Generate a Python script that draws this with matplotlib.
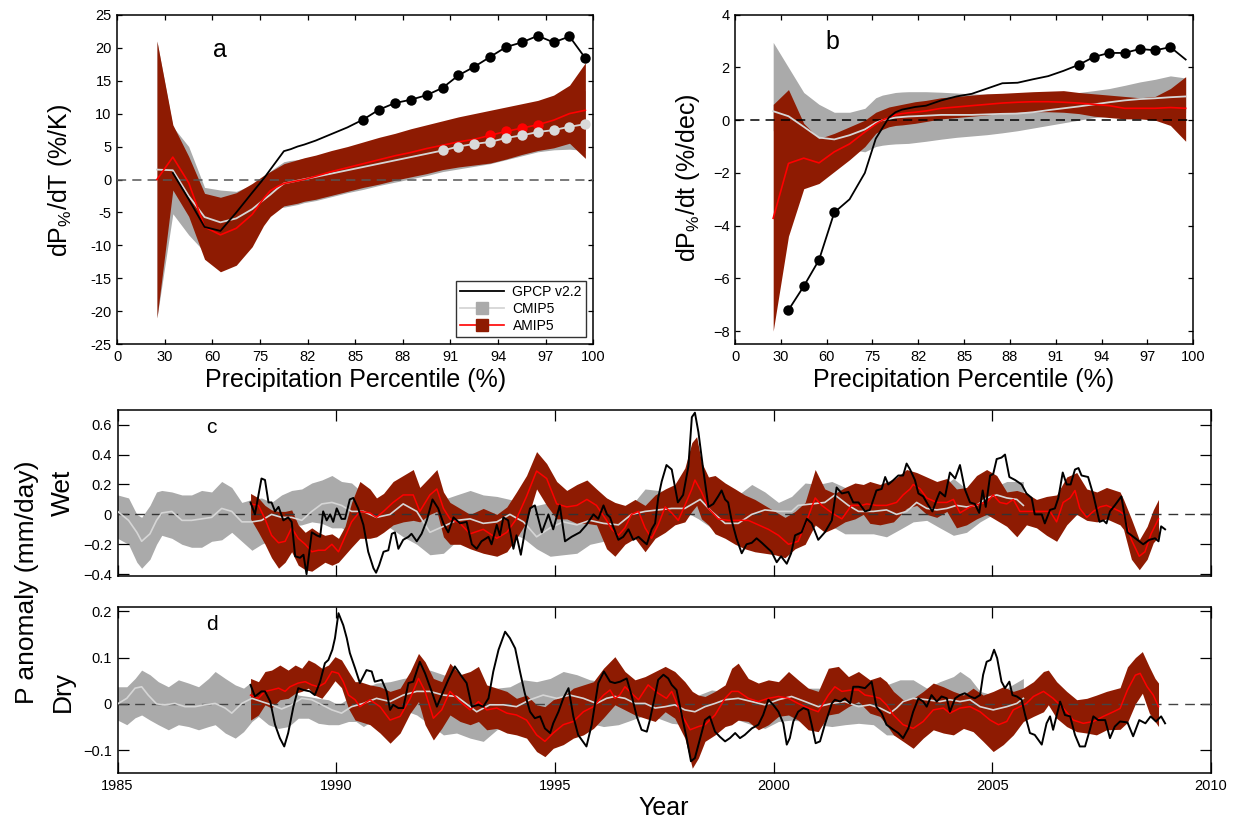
import numpy as np
import matplotlib
matplotlib.use("Agg")
import matplotlib.pyplot as plt
from matplotlib.lines import Line2D

plt.rcParams["font.family"] = ["Liberation Sans", "DejaVu Sans"]
plt.rcParams["mathtext.default"] = "regular"

# ---------------------------------------------------------------- percentile panels
PCT_TICKS = [0, 30, 60, 75, 82, 85, 88, 91, 94, 97, 100]
PCT = [25, 35, 45, 55, 62.5, 67.5, 72.5,
       75.5, 76.5, 77.5, 78.5, 79.5, 80.5, 81.5, 82.5, 83.5, 84.5,
       85.5, 86.5, 87.5, 88.5, 89.5, 90.5, 91.5, 92.5, 93.5, 94.5,
       95.5, 96.5, 97.5, 98.5, 99.5]
nan = np.nan

# (a) dP/dT  (%/K)
A_GPCP = [nan, 1.0, -3.0, -7.2, -7.8, -5.0, -2.0, 0.1, 1.5, 2.9, 4.3, 4.6, 5.0, 5.3, 5.9, 6.9,
          7.9, 9.1, 10.6, 11.6, 12.1, 12.8, 13.9, 15.8, 17.1, 18.6, 20.1, 20.8, 21.8, 20.8, 21.7, 18.4]
A_CMIP = [1.5, 1.4, -2.5, -5.7, -6.5, -5.9, -4.5, -3.1, -2.3, -1.4, -0.6, -0.39, -0.17, 0.04, 0.4, 0.9,
          1.4, 1.9, 2.4, 2.9, 3.4, 3.9, 4.4, 5.0, 5.4, 5.7, 6.3, 6.7, 7.2, 7.5, 8.0, 8.4]
A_CMIP_HI = [21.0, 8.0, 5.0, -1.2, -1.6, -1.8, -0.8, 0.5, 1.3, 2.0, 2.7, 2.9, 3.0, 3.2, 3.5, 4.0,
             4.6, 5.2, 5.8, 6.4, 7.0, 7.6, 8.2, 8.8, 9.3, 9.8, 10.2, 10.7, 11.2, 11.8, 12.8, 13.5]
A_CMIP_LO = [-21.0, -5.2, -8.4, -11.0, -9.5, -9.0, -7.0, -5.0, -4.5, -4.2, -4.2, -4.0, -3.8, -3.5, -3.2, -2.6,
             -2.0, -1.5, -0.9, -0.4, 0.1, 0.6, 1.2, 1.6, 2.0, 2.4, 3.0, 3.6, 4.2, 4.5, 4.6, 4.4]
A_AMIP = [0.0, 3.4, -0.5, -7.2, -8.4, -7.4, -5.3, -2.9, -1.7, -1.1, -0.6, -0.4, -0.2, 0.0, 0.5, 1.2,
          1.8, 2.4, 3.0, 3.6, 4.1, 4.7, 5.2, 5.7, 6.1, 6.7, 7.3, 7.8, 8.3, 9.0, 10.0, 10.5]
A_AMIP_HI = [21.0, 8.3, 3.5, -2.1, -2.7, -2.0, -0.6, 0.6, 1.2, 1.8, 2.4, 2.7, 3.0, 3.3, 3.7, 4.4,
             5.0, 5.7, 6.4, 7.0, 7.7, 8.3, 8.9, 9.5, 10.0, 10.5, 11.0, 11.5, 12.0, 12.8, 14.3, 17.7]
A_AMIP_LO = [-21.0, -1.6, -5.6, -12.1, -14.0, -13.0, -10.2, -7.0, -5.6, -4.8, -4.0, -3.8, -3.6, -3.3, -3.0, -2.4,
             -1.8, -1.2, -0.7, -0.1, 0.4, 0.9, 1.5, 1.9, 2.2, 2.5, 3.1, 3.8, 4.4, 4.8, 5.5, 3.2]
A_GPCP_SIG = list(range(17, 32))
A_CMIP_SIG = list(range(22, 32))
A_AMIP_SIG = [25, 26, 27, 28]

# (b) dP/dt  (%/dec)
B_GPCP = [nan, -7.2, -6.3, -5.3, -3.5, -3.0, -2.0, -0.7, -0.3, 0.1, 0.3, 0.4, 0.45, 0.5, 0.55, 0.75,
          0.9, 1.0, 1.2, 1.4, 1.42, 1.55, 1.67, 1.87, 2.1, 2.4, 2.55, 2.55, 2.7, 2.65, 2.77, 2.3]
B_CMIP = [0.34, 0.15, -0.25, -0.66, -0.73, -0.57, -0.35, -0.1, 0.0, 0.05, 0.1, 0.12, 0.14, 0.15, 0.17, 0.2,
          0.2, 0.2, 0.22, 0.24, 0.25, 0.3, 0.38, 0.45, 0.52, 0.6, 0.68, 0.75, 0.8, 0.83, 0.87, 0.9]
B_CMIP_HI = [2.95, 2.0, 1.05, 0.6, 0.3, 0.3, 0.45, 0.85, 0.95, 1.0, 1.05, 1.07, 1.08, 1.08, 1.08, 1.06,
             1.03, 1.0, 0.98, 0.96, 0.95, 0.94, 0.92, 0.98, 1.05, 1.12, 1.2, 1.32, 1.45, 1.55, 1.68, 1.6]
B_CMIP_LO = [-0.4, -0.3, -0.6, -0.85, -0.75, -1.1, -1.2, -1.0, -0.95, -0.92, -0.9, -0.89, -0.88, -0.85, -0.8, -0.72,
             -0.65, -0.6, -0.55, -0.48, -0.4, -0.3, -0.2, -0.1, 0.0, 0.1, 0.15, 0.2, 0.25, 0.25, 0.3, 0.3]
B_AMIP = [-3.72, -1.64, -1.44, -1.62, -1.2, -0.9, -0.45, -0.15, 0.0, 0.1, 0.2, 0.25, 0.28, 0.3, 0.35, 0.45,
          0.5, 0.55, 0.6, 0.65, 0.68, 0.7, 0.7, 0.68, 0.65, 0.6, 0.55, 0.45, 0.45, 0.45, 0.48, 0.45]
B_AMIP_HI = [0.6, 1.16, -0.12, -0.7, -0.5, -0.25, 0.0, 0.3, 0.4, 0.5, 0.55, 0.6, 0.65, 0.7, 0.75, 0.85,
             0.9, 0.95, 1.0, 1.02, 1.05, 1.08, 1.1, 1.12, 1.05, 1.0, 0.95, 0.9, 0.85, 0.9, 1.2, 1.65]
B_AMIP_LO = [-8.0, -4.4, -2.6, -2.4, -1.95, -1.5, -1.0, -0.5, -0.35, -0.25, -0.2, -0.18, -0.15, -0.12, -0.05, 0.05,
             0.1, 0.15, 0.2, 0.25, 0.3, 0.32, 0.32, 0.3, 0.25, 0.15, 0.1, 0.05, 0.05, 0.0, -0.2, -0.8]
B_GPCP_SIG = [1, 2, 3, 4, 24, 25, 26, 27, 28, 29, 30]

# ---------------------------------------------------------------- time series (mm/day)
# (year, upper, lower)
WET_CMIP_BAND = [
    (1985.00, 0.13, -0.16), (1985.25, 0.11, -0.20), (1985.44, 0.00, -0.32), (1985.55, -0.02, -0.36),
    (1985.74, 0.06, -0.30), (1985.89, 0.15, -0.20), (1986.01, 0.16, -0.14), (1986.24, 0.15, -0.16),
    (1986.47, 0.13, -0.20), (1986.69, 0.13, -0.22), (1986.92, 0.16, -0.22), (1987.15, 0.15, -0.18),
    (1987.38, 0.22, -0.17), (1987.61, 0.18, -0.12), (1987.84, 0.08, -0.18), (1988.07, 0.10, -0.24),
    (1988.29, 0.11, -0.20), (1988.52, 0.08, -0.17), (1988.75, 0.13, -0.12), (1988.98, 0.16, -0.08),
    (1989.21, 0.17, -0.07), (1989.44, 0.21, -0.05), (1989.67, 0.23, -0.06), (1989.90, 0.26, -0.09),
    (1990.12, 0.22, -0.09), (1990.35, 0.21, -0.13), (1990.62, 0.14, -0.09), (1990.92, 0.08, -0.07),
    (1991.23, 0.10, -0.09), (1991.53, 0.13, -0.15), (1991.84, 0.08, -0.20), (1992.14, 0.06, -0.27),
    (1992.45, 0.10, -0.26), (1992.75, 0.13, -0.18), (1993.06, 0.16, -0.16), (1993.36, 0.13, -0.17),
    (1993.67, 0.12, -0.16), (1993.97, 0.10, -0.12), (1994.28, 0.08, -0.16), (1994.58, 0.06, -0.23),
    (1994.89, 0.08, -0.28), (1995.19, 0.13, -0.27), (1995.50, 0.15, -0.26), (1995.80, 0.13, -0.20),
    (1996.11, 0.12, -0.18), (1996.45, 0.06, -0.15), (1996.75, 0.06, -0.12), (1997.06, 0.17, -0.07),
    (1997.36, 0.16, -0.05), (1997.67, 0.14, 0.02), (1997.97, 0.11, 0.02), (1998.28, 0.12, -0.03),
    (1998.58, 0.08, -0.09), (1998.89, 0.10, -0.12), (1999.19, 0.13, -0.13), (1999.50, 0.20, -0.14),
    (1999.80, 0.15, -0.15), (2000.11, 0.08, -0.13), (2000.41, 0.12, -0.12), (2000.72, 0.21, -0.10),
    (2001.02, 0.20, -0.07), (2001.33, 0.22, -0.08), (2001.63, 0.18, -0.13), (2001.94, 0.13, -0.13),
    (2002.28, 0.18, -0.13), (2002.58, 0.22, -0.15), (2002.89, 0.25, -0.10), (2003.19, 0.28, -0.05),
    (2003.50, 0.23, -0.04), (2003.80, 0.17, -0.09), (2004.11, 0.24, -0.14), (2004.41, 0.17, -0.12),
    (2004.72, 0.13, -0.05), (2005.02, 0.18, 0.00), (2005.33, 0.22, 0.02), (2005.71, 0.22, 0.06),
]
WET_CMIP = [
    (1985.00, 0.02), (1985.25, -0.04), (1985.44, -0.12), (1985.55, -0.18), (1985.74, -0.13), (1985.89, -0.04),
    (1986.01, 0.01), (1986.24, 0.02), (1986.47, -0.04), (1986.69, -0.04), (1986.92, -0.03), (1987.15, -0.02),
    (1987.38, 0.04), (1987.61, 0.02), (1987.84, -0.05), (1988.07, -0.05), (1988.29, -0.04), (1988.52, 0.00),
    (1988.75, -0.02), (1988.98, -0.02), (1989.21, -0.04), (1989.44, 0.02), (1989.67, 0.07), (1989.90, 0.08),
    (1990.12, 0.06), (1990.35, 0.02), (1990.62, 0.02), (1990.92, -0.02), (1991.23, 0.00), (1991.53, 0.07),
    (1991.84, 0.02), (1992.14, -0.12), (1992.45, -0.08), (1992.75, -0.04), (1993.06, -0.03), (1993.36, -0.06),
    (1993.67, -0.05), (1993.97, 0.00), (1994.28, -0.05), (1994.58, -0.15), (1994.89, -0.09), (1995.19, -0.05),
    (1995.50, -0.07), (1995.80, -0.04), (1996.11, -0.06), (1996.45, -0.07), (1996.75, 0.00), (1997.06, 0.02),
    (1997.36, 0.03), (1997.67, 0.04), (1997.97, 0.04), (1998.32, 0.10), (1998.58, 0.02), (1998.89, -0.06),
    (1999.19, -0.06), (1999.50, 0.00), (1999.80, 0.03), (2000.11, 0.02), (2000.41, 0.02), (2000.56, 0.06),
    (2000.87, 0.07), (2001.17, 0.08), (2001.40, 0.13), (2001.71, 0.06), (2001.94, 0.02), (2002.28, 0.02),
    (2002.58, 0.03), (2002.81, 0.00), (2003.04, 0.02), (2003.27, 0.08), (2003.50, 0.04), (2003.73, 0.03),
    (2003.96, 0.04), (2004.18, 0.06), (2004.41, 0.05), (2004.64, 0.06), (2004.87, 0.11), (2005.10, 0.13),
    (2005.33, 0.11), (2005.56, 0.10), (2005.71, 0.06),
]
WET_AMIP_BAND = [
    (1988.04, 0.14, -0.03), (1988.22, 0.11, -0.12), (1988.37, 0.06, -0.20), (1988.52, 0.03, -0.29),
    (1988.68, 0.02, -0.36), (1988.83, 0.02, -0.32), (1988.98, 0.03, -0.25), (1989.13, -0.07, -0.34),
    (1989.29, -0.12, -0.37), (1989.44, -0.09, -0.38), (1989.59, -0.12, -0.35), (1989.74, -0.14, -0.32),
    (1989.90, -0.13, -0.34), (1990.05, -0.16, -0.32), (1990.20, -0.08, -0.27), (1990.35, 0.08, -0.22),
    (1990.54, 0.22, -0.16), (1990.77, 0.17, -0.16), (1990.92, 0.11, -0.15), (1991.08, 0.14, -0.12),
    (1991.30, 0.22, -0.07), (1991.53, 0.26, -0.05), (1991.76, 0.30, -0.04), (1991.91, 0.18, -0.05),
    (1992.14, 0.25, 0.00), (1992.30, 0.30, 0.02), (1992.45, 0.15, -0.15), (1992.60, 0.08, -0.20),
    (1992.83, 0.04, -0.20), (1993.06, 0.00, -0.23), (1993.36, 0.04, -0.26), (1993.67, 0.00, -0.28),
    (1993.90, 0.05, -0.25), (1994.12, 0.15, -0.16), (1994.35, 0.26, -0.05), (1994.58, 0.42, 0.17),
    (1994.81, 0.34, 0.06), (1995.04, 0.22, -0.03), (1995.27, 0.16, -0.03), (1995.50, 0.20, -0.06),
    (1995.73, 0.23, -0.06), (1995.95, 0.17, -0.07), (1996.18, 0.11, -0.23), (1996.37, 0.08, -0.28),
    (1996.60, 0.06, -0.20), (1996.83, 0.10, -0.16), (1997.06, 0.06, -0.25), (1997.29, 0.13, -0.16),
    (1997.52, 0.17, -0.12), (1997.74, 0.20, -0.07), (1997.97, 0.31, -0.05), (1998.13, 0.48, 0.02),
    (1998.24, 0.52, 0.06), (1998.35, 0.35, -0.03), (1998.51, 0.25, -0.07), (1998.66, 0.26, -0.13),
    (1998.89, 0.21, -0.16), (1999.12, 0.17, -0.20), (1999.34, 0.13, -0.23), (1999.57, 0.10, -0.25),
    (1999.80, 0.06, -0.26), (2000.03, 0.02, -0.27), (2000.26, -0.02, -0.29), (2000.49, 0.02, -0.23),
    (2000.72, 0.08, -0.20), (2000.95, 0.30, -0.07), (2001.17, 0.17, -0.12), (2001.40, 0.14, -0.09),
    (2001.63, 0.18, -0.05), (2001.86, 0.21, -0.03), (2002.05, 0.20, 0.00), (2002.20, 0.22, -0.06),
    (2002.43, 0.20, -0.07), (2002.74, 0.23, -0.05), (2003.04, 0.30, 0.04), (2003.27, 0.28, 0.06),
    (2003.50, 0.25, 0.00), (2003.73, 0.22, -0.02), (2003.96, 0.24, 0.02), (2004.18, 0.17, -0.09),
    (2004.41, 0.18, -0.07), (2004.64, 0.26, -0.03), (2004.87, 0.30, 0.00), (2005.10, 0.26, -0.04),
    (2005.33, 0.15, -0.08), (2005.56, 0.16, -0.15), (2005.78, 0.14, -0.07), (2006.01, 0.10, -0.09),
    (2006.24, 0.12, -0.14), (2006.47, 0.13, -0.18), (2006.70, 0.25, -0.07), (2006.93, 0.28, 0.00),
    (2007.16, 0.17, -0.04), (2007.39, 0.15, -0.05), (2007.61, 0.18, -0.03), (2007.92, 0.15, -0.07),
    (2008.00, 0.10, -0.10), (2008.18, -0.03, -0.30), (2008.36, -0.17, -0.37), (2008.54, -0.08, -0.30),
    (2008.68, 0.03, -0.19), (2008.80, 0.10, -0.15),
]
WET_AMIP = [
    (1988.04, 0.07), (1988.22, 0.06), (1988.37, -0.03), (1988.52, -0.14), (1988.68, -0.19), (1988.83, -0.18),
    (1988.98, -0.09), (1989.13, -0.16), (1989.29, -0.20), (1989.44, -0.25), (1989.59, -0.24), (1989.74, -0.24),
    (1989.90, -0.20), (1990.05, -0.25), (1990.20, -0.15), (1990.35, -0.05), (1990.54, 0.02), (1990.77, 0.01),
    (1990.92, -0.02), (1991.08, 0.02), (1991.30, 0.08), (1991.53, 0.13), (1991.76, 0.13), (1991.91, 0.02),
    (1992.14, 0.13), (1992.30, 0.17), (1992.45, 0.04), (1992.60, -0.03), (1992.83, -0.06), (1993.06, -0.13),
    (1993.36, -0.10), (1993.67, -0.16), (1993.90, -0.12), (1994.12, -0.03), (1994.35, 0.12), (1994.58, 0.29),
    (1994.81, 0.24), (1995.04, 0.07), (1995.27, 0.05), (1995.50, 0.06), (1995.73, 0.10), (1995.95, 0.06),
    (1996.18, -0.04), (1996.30, -0.10), (1996.45, -0.14), (1996.60, -0.09), (1996.75, 0.00), (1996.91, 0.02),
    (1997.06, -0.09), (1997.21, -0.16), (1997.36, -0.07), (1997.52, 0.05), (1997.67, 0.01), (1997.82, -0.04),
    (1997.97, 0.06), (1998.13, 0.17), (1998.20, 0.23), (1998.35, 0.15), (1998.51, 0.04), (1998.73, -0.03),
    (1998.96, -0.04), (1999.19, -0.04), (1999.42, -0.04), (1999.65, -0.07), (1999.88, -0.10), (2000.11, -0.14),
    (2000.34, -0.20), (2000.56, -0.18), (2000.72, -0.07), (2000.95, 0.11), (2001.10, 0.06), (2001.33, 0.01),
    (2001.56, -0.03), (2001.78, 0.06), (2002.01, 0.06), (2002.13, 0.07), (2002.35, 0.06), (2002.58, 0.06),
    (2002.81, 0.08), (2002.96, 0.13), (2003.12, 0.17), (2003.19, 0.20), (2003.35, 0.17), (2003.50, 0.11),
    (2003.73, 0.08), (2003.96, 0.08), (2004.11, 0.10), (2004.26, 0.01), (2004.49, 0.05), (2004.72, 0.07),
    (2004.87, 0.08), (2005.02, 0.13), (2005.17, 0.08), (2005.33, 0.07), (2005.48, 0.10), (2005.63, 0.02),
    (2005.86, 0.02), (2006.09, 0.02), (2006.32, 0.02), (2006.47, -0.05), (2006.62, 0.08), (2006.78, 0.11),
    (2006.89, 0.16), (2007.00, 0.04), (2007.16, -0.02), (2007.31, 0.02), (2007.46, 0.05), (2007.61, 0.06),
    (2007.77, 0.04), (2007.92, 0.02), (2008.00, 0.00), (2008.18, -0.17), (2008.36, -0.28), (2008.49, -0.25),
    (2008.63, -0.13), (2008.80, -0.03),
]
WET_GPCP = [
    (1988.04, 0.08), (1988.14, 0.00), (1988.22, 0.13), (1988.29, 0.24), (1988.37, 0.23), (1988.45, 0.08),
    (1988.52, 0.08), (1988.60, 0.02), (1988.68, 0.05), (1988.79, -0.04), (1988.90, -0.02), (1988.98, -0.05),
    (1989.06, -0.28), (1989.17, -0.29), (1989.25, -0.27), (1989.32, -0.40), (1989.44, -0.12), (1989.55, -0.14),
    (1989.63, -0.15), (1989.70, 0.02), (1989.78, -0.04), (1989.86, 0.00), (1989.93, -0.05), (1990.01, 0.04),
    (1990.12, -0.03), (1990.20, -0.03), (1990.31, 0.10), (1990.39, 0.11), (1990.50, 0.04), (1990.62, -0.07),
    (1990.73, -0.25), (1990.85, -0.36), (1990.91, -0.39), (1990.98, -0.34), (1991.08, -0.25), (1991.19, -0.24),
    (1991.27, -0.13), (1991.34, -0.12), (1991.42, -0.23), (1991.53, -0.17), (1991.65, -0.15), (1991.72, -0.13),
    (1991.84, -0.18), (1991.95, -0.13), (1992.07, -0.04), (1992.20, 0.10), (1992.33, 0.04), (1992.45, -0.06),
    (1992.56, -0.12), (1992.68, -0.02), (1992.83, -0.06), (1992.98, -0.05), (1993.10, -0.20), (1993.21, -0.23),
    (1993.32, -0.18), (1993.48, -0.15), (1993.55, -0.20), (1993.67, -0.07), (1993.74, -0.14), (1993.82, -0.02),
    (1993.93, -0.04), (1994.05, -0.23), (1994.12, -0.14), (1994.22, -0.27), (1994.32, -0.10), (1994.43, 0.04),
    (1994.54, 0.06), (1994.70, -0.12), (1994.85, 0.00), (1994.96, -0.10), (1995.11, 0.06), (1995.23, -0.18),
    (1995.38, -0.15), (1995.57, -0.12), (1995.72, -0.07), (1995.88, 0.00), (1995.99, -0.03), (1996.11, 0.06),
    (1996.19, 0.00), (1996.26, -0.02), (1996.33, -0.08), (1996.45, -0.17), (1996.56, -0.15), (1996.68, -0.10),
    (1996.79, -0.17), (1996.91, -0.15), (1997.02, -0.18), (1997.10, -0.20), (1997.21, -0.10), (1997.29, -0.06),
    (1997.36, 0.11), (1997.44, 0.22), (1997.55, 0.33), (1997.67, 0.30), (1997.81, 0.08), (1997.93, 0.13),
    (1998.05, 0.32), (1998.13, 0.65), (1998.20, 0.68), (1998.28, 0.55), (1998.39, 0.30), (1998.51, 0.05),
    (1998.62, 0.07), (1998.73, 0.12), (1998.81, 0.16), (1998.89, 0.10), (1998.96, 0.08), (1999.04, -0.04),
    (1999.15, -0.16), (1999.27, -0.26), (1999.38, -0.20), (1999.50, -0.19), (1999.61, -0.16), (1999.73, -0.19),
    (1999.84, -0.22), (1999.95, -0.25), (2000.07, -0.32), (2000.17, -0.28), (2000.30, -0.33), (2000.40, -0.26),
    (2000.49, -0.14), (2000.64, -0.12), (2000.76, -0.03), (2000.87, -0.06), (2001.02, -0.17), (2001.17, -0.12),
    (2001.33, -0.04), (2001.44, 0.18), (2001.56, 0.14), (2001.71, 0.15), (2001.82, 0.08), (2001.94, 0.08),
    (2002.09, 0.02), (2002.20, 0.03), (2002.35, 0.16), (2002.47, 0.17), (2002.55, 0.25), (2002.62, 0.20),
    (2002.74, 0.23), (2002.85, 0.26), (2002.96, 0.26), (2003.04, 0.34), (2003.12, 0.30), (2003.23, 0.23),
    (2003.31, 0.14), (2003.42, 0.12), (2003.54, 0.06), (2003.63, 0.02), (2003.73, 0.10), (2003.80, 0.15),
    (2003.92, 0.12), (2004.03, 0.28), (2004.15, 0.24), (2004.26, 0.33), (2004.37, 0.17), (2004.49, 0.08),
    (2004.60, 0.07), (2004.70, 0.01), (2004.78, 0.16), (2004.85, 0.05), (2004.95, 0.26), (2005.02, 0.27),
    (2005.10, 0.37), (2005.21, 0.38), (2005.29, 0.40), (2005.39, 0.25), (2005.52, 0.23), (2005.67, 0.20),
    (2005.78, 0.14), (2005.90, 0.11), (2005.97, 0.00), (2006.13, 0.00), (2006.20, -0.06), (2006.32, 0.03),
    (2006.43, 0.04), (2006.51, 0.11), (2006.61, 0.28), (2006.70, 0.20), (2006.79, 0.20), (2006.89, 0.30),
    (2006.97, 0.31), (2007.04, 0.26), (2007.19, 0.25), (2007.31, 0.13), (2007.45, -0.05), (2007.54, -0.04),
    (2007.61, -0.06), (2007.69, 0.02), (2007.80, 0.06), (2007.95, 0.12), (2008.09, -0.12), (2008.27, -0.16),
    (2008.45, -0.20), (2008.59, -0.17), (2008.72, -0.16), (2008.80, -0.18), (2008.86, -0.08), (2008.95, -0.10),
]

DRY_CMIP_BAND = [
    (1985.00, 0.037, -0.035), (1985.21, 0.037, -0.045), (1985.40, 0.055, -0.030), (1985.55, 0.073, -0.024),
    (1985.74, 0.063, -0.035), (1985.93, 0.048, -0.045), (1986.16, 0.037, -0.056), (1986.39, 0.052, -0.045),
    (1986.62, 0.045, -0.049), (1986.85, 0.037, -0.056), (1987.08, 0.055, -0.049), (1987.23, 0.070, -0.045),
    (1987.46, 0.055, -0.063), (1987.69, 0.041, -0.074), (1987.88, 0.034, -0.060), (1988.07, 0.048, -0.038),
    (1988.22, 0.045, -0.027), (1988.45, 0.027, -0.045), (1988.68, 0.034, -0.053), (1988.91, 0.037, -0.049),
    (1989.13, 0.019, -0.031), (1989.36, 0.016, -0.031), (1989.59, 0.012, -0.042), (1989.82, 0.009, -0.045),
    (1990.05, -0.002, -0.045), (1990.28, 0.012, -0.038), (1990.45, 0.027, -0.038), (1990.62, 0.034, -0.049),
    (1990.92, 0.045, -0.031), (1991.23, 0.048, -0.024), (1991.53, 0.055, -0.013), (1991.84, 0.059, -0.024),
    (1992.14, 0.073, -0.045), (1992.45, 0.063, -0.067), (1992.75, 0.052, -0.063), (1993.06, 0.041, -0.074),
    (1993.36, 0.030, -0.081), (1993.67, 0.034, -0.056), (1993.97, 0.037, -0.045), (1994.28, 0.052, -0.038),
    (1994.58, 0.048, -0.035), (1994.89, 0.055, -0.024), (1995.19, 0.070, -0.031), (1995.50, 0.063, -0.038),
    (1995.80, 0.052, -0.042), (1996.11, 0.048, -0.049), (1996.45, 0.030, -0.045), (1996.75, 0.041, -0.035),
    (1997.06, 0.048, -0.024), (1997.36, 0.055, -0.031), (1997.67, 0.041, -0.042), (1997.97, 0.027, -0.045),
    (1998.28, 0.019, -0.056), (1998.58, 0.030, -0.045), (1998.89, 0.027, -0.038), (1999.19, 0.041, -0.035),
    (1999.50, 0.034, -0.045), (1999.80, 0.030, -0.053), (2000.11, 0.045, -0.038), (2000.41, 0.048, -0.035),
    (2000.72, 0.034, -0.038), (2001.02, 0.034, -0.045), (2001.33, 0.030, -0.049), (2001.63, 0.034, -0.045),
    (2001.94, 0.037, -0.042), (2002.28, 0.048, -0.045), (2002.58, 0.041, -0.067), (2002.89, 0.052, -0.067),
    (2003.19, 0.052, -0.053), (2003.50, 0.034, -0.038), (2003.80, 0.048, -0.027), (2004.11, 0.059, -0.013),
    (2004.26, 0.070, -0.016), (2004.49, 0.055, -0.031), (2004.72, 0.027, -0.045), (2005.02, 0.019, -0.049),
    (2005.33, 0.034, -0.038), (2005.71, 0.055, -0.024),
]
DRY_CMIP = [
    (1985.00, 0.000), (1985.21, 0.012), (1985.40, 0.034), (1985.55, 0.037), (1985.70, 0.019), (1985.89, 0.000),
    (1986.08, -0.002), (1986.31, 0.001), (1986.54, -0.006), (1986.77, -0.006), (1987.00, -0.002), (1987.23, 0.001),
    (1987.46, -0.009), (1987.61, -0.020), (1987.84, 0.001), (1988.07, 0.012), (1988.29, 0.005), (1988.52, -0.002),
    (1988.75, -0.011), (1988.98, -0.002), (1989.21, 0.012), (1989.44, 0.009), (1989.67, -0.002), (1989.90, -0.013),
    (1990.12, -0.020), (1990.35, -0.006), (1990.62, 0.001), (1990.92, 0.012), (1991.23, 0.005), (1991.53, 0.019),
    (1991.84, 0.027), (1992.14, 0.027), (1992.45, 0.019), (1992.75, 0.016), (1993.06, -0.006), (1993.21, -0.017),
    (1993.51, -0.002), (1993.82, -0.002), (1994.12, -0.006), (1994.43, 0.009), (1994.73, 0.019), (1995.04, 0.012),
    (1995.34, 0.019), (1995.65, 0.012), (1995.95, 0.001), (1996.18, 0.012), (1996.37, 0.016), (1996.60, 0.012),
    (1996.83, 0.001), (1997.06, 0.001), (1997.29, -0.009), (1997.52, -0.006), (1997.74, -0.002), (1997.97, -0.013),
    (1998.20, -0.017), (1998.43, -0.006), (1998.66, 0.001), (1998.89, 0.009), (1999.19, 0.012), (1999.50, 0.005),
    (1999.80, -0.002), (2000.11, 0.009), (2000.41, 0.016), (2000.72, 0.005), (2001.02, -0.006), (2001.33, 0.001),
    (2001.63, 0.005), (2001.94, -0.006), (2002.20, -0.002), (2002.43, -0.009), (2002.66, -0.020), (2002.81, -0.009),
    (2002.96, 0.005), (2003.19, 0.012), (2003.50, 0.009), (2003.80, 0.005), (2004.03, 0.009), (2004.26, 0.005),
    (2004.49, 0.009), (2004.72, -0.006), (2005.02, -0.013), (2005.33, -0.006), (2005.56, 0.001), (2005.71, 0.012),
]
DRY_AMIP_BAND = [
    (1988.04, 0.055, -0.035), (1988.22, 0.048, -0.024), (1988.37, 0.070, -0.002), (1988.52, 0.073, -0.009),
    (1988.71, 0.084, 0.009), (1988.90, 0.073, 0.012), (1989.06, 0.084, 0.023), (1989.21, 0.077, 0.027),
    (1989.36, 0.095, 0.034), (1989.51, 0.088, 0.019), (1989.67, 0.077, 0.012), (1989.82, 0.084, 0.030),
    (1989.97, 0.102, 0.050), (1990.12, 0.095, 0.035), (1990.28, 0.070, -0.010), (1990.43, 0.048, -0.035),
    (1990.54, 0.048, -0.038), (1990.77, 0.041, -0.045), (1991.00, 0.037, -0.063), (1991.23, 0.027, -0.085),
    (1991.46, 0.034, -0.063), (1991.69, 0.070, -0.020), (1991.88, 0.109, 0.005), (1992.03, 0.091, -0.045),
    (1992.22, 0.055, -0.078), (1992.41, 0.048, -0.053), (1992.60, 0.088, -0.024), (1992.83, 0.063, -0.038),
    (1993.06, 0.070, -0.045), (1993.25, 0.081, -0.038), (1993.44, 0.041, -0.056), (1993.67, 0.034, -0.053),
    (1993.90, 0.027, -0.063), (1994.12, 0.012, -0.067), (1994.35, 0.019, -0.074), (1994.58, -0.002, -0.103),
    (1994.77, -0.006, -0.114), (1994.96, 0.009, -0.096), (1995.19, 0.016, -0.088), (1995.42, 0.034, -0.074),
    (1995.65, 0.041, -0.067), (1995.88, 0.048, -0.053), (1996.11, 0.077, -0.030), (1996.37, 0.102, -0.002),
    (1996.60, 0.070, -0.013), (1996.83, 0.052, -0.024), (1997.06, 0.059, -0.031), (1997.29, 0.070, -0.038),
    (1997.52, 0.081, -0.017), (1997.74, 0.070, -0.031), (1997.97, 0.048, -0.074), (1998.14, 0.027, -0.139),
    (1998.28, 0.019, -0.117), (1998.43, 0.016, -0.081), (1998.66, 0.027, -0.067), (1998.89, 0.041, -0.049),
    (1999.04, 0.077, -0.045), (1999.19, 0.088, -0.035), (1999.42, 0.055, -0.038), (1999.65, 0.045, -0.056),
    (1999.88, 0.052, -0.045), (2000.11, 0.048, -0.027), (2000.34, 0.070, -0.024), (2000.56, 0.052, -0.035),
    (2000.79, 0.034, -0.056), (2001.02, 0.027, -0.060), (2001.25, 0.077, -0.024), (2001.48, 0.081, -0.020),
    (2001.71, 0.059, -0.006), (2001.94, 0.070, 0.005), (2002.20, 0.052, -0.020), (2002.43, 0.059, -0.027),
    (2002.58, 0.048, -0.045), (2002.74, 0.027, -0.067), (2002.96, 0.009, -0.081), (2003.19, 0.012, -0.096),
    (2003.42, 0.027, -0.074), (2003.65, 0.045, -0.056), (2003.88, 0.037, -0.063), (2004.11, 0.027, -0.067),
    (2004.34, 0.019, -0.053), (2004.56, 0.034, -0.060), (2004.79, 0.019, -0.081), (2005.02, 0.027, -0.103),
    (2005.25, 0.037, -0.088), (2005.48, 0.027, -0.067), (2005.71, 0.034, -0.038), (2005.94, 0.048, -0.027),
    (2006.17, 0.070, -0.017), (2006.28, 0.073, -0.002), (2006.47, 0.048, -0.031), (2006.70, 0.027, -0.049),
    (2006.93, 0.009, -0.060), (2007.16, 0.012, -0.063), (2007.38, 0.019, -0.067), (2007.61, 0.027, -0.056),
    (2007.92, 0.035, -0.055), (2008.09, 0.080, -0.040), (2008.27, 0.100, 0.000), (2008.43, 0.113, 0.023),
    (2008.59, 0.080, -0.020), (2008.72, 0.055, -0.038), (2008.80, 0.045, -0.049),
]
DRY_AMIP = [
    (1988.04, 0.019), (1988.22, 0.012), (1988.37, 0.027), (1988.52, 0.030), (1988.68, 0.034), (1988.83, 0.027),
    (1988.94, 0.037), (1989.13, 0.045), (1989.29, 0.048), (1989.44, 0.041), (1989.59, 0.037), (1989.74, 0.045),
    (1989.90, 0.070), (1990.05, 0.066), (1990.16, 0.048), (1990.28, 0.019), (1990.43, 0.009), (1990.54, -0.006),
    (1990.77, 0.009), (1991.00, -0.006), (1991.23, -0.035), (1991.46, -0.027), (1991.69, 0.012), (1991.88, 0.055),
    (1992.03, 0.027), (1992.22, -0.031), (1992.41, -0.013), (1992.60, 0.027), (1992.83, 0.005), (1993.06, -0.013),
    (1993.25, 0.005), (1993.44, -0.013), (1993.67, -0.009), (1993.90, -0.020), (1994.12, -0.024), (1994.35, -0.035),
    (1994.58, -0.067), (1994.77, -0.081), (1994.96, -0.063), (1995.19, -0.045), (1995.42, -0.038), (1995.65, -0.017),
    (1995.88, -0.006), (1996.11, 0.019), (1996.26, 0.030), (1996.37, 0.012), (1996.48, 0.019), (1996.60, 0.037),
    (1996.75, 0.023), (1996.91, 0.009), (1997.13, 0.041), (1997.36, 0.023), (1997.55, 0.012), (1997.67, 0.027),
    (1997.90, -0.024), (1998.09, -0.056), (1998.28, -0.049), (1998.43, -0.045), (1998.66, -0.024), (1998.89, 0.012),
    (1999.04, 0.027), (1999.19, 0.027), (1999.42, 0.012), (1999.65, 0.005), (1999.88, 0.012), (2000.11, 0.016),
    (2000.34, 0.012), (2000.56, 0.001), (2000.79, -0.009), (2001.02, -0.017), (2001.25, 0.019), (2001.40, 0.037),
    (2001.56, 0.027), (2001.78, 0.030), (2001.94, 0.030), (2002.09, 0.019), (2002.28, 0.016), (2002.43, 0.012),
    (2002.58, -0.002), (2002.74, -0.024), (2002.96, -0.045), (2003.19, -0.053), (2003.42, -0.038), (2003.65, -0.013),
    (2003.88, -0.009), (2004.03, -0.020), (2004.26, -0.009), (2004.49, -0.006), (2004.72, -0.017), (2004.95, -0.035),
    (2005.14, -0.045), (2005.33, -0.038), (2005.48, -0.013), (2005.63, -0.006), (2005.78, 0.001), (2005.94, 0.016),
    (2006.17, 0.027), (2006.39, 0.012), (2006.62, -0.009), (2006.85, -0.035), (2007.08, -0.042), (2007.31, -0.038),
    (2007.54, -0.027), (2007.77, -0.017), (2007.92, -0.010), (2008.09, 0.030), (2008.27, 0.062), (2008.38, 0.066),
    (2008.54, 0.037), (2008.68, 0.019), (2008.80, -0.006),
]
DRY_GPCP = [
    (1988.04, 0.041), (1988.14, 0.016), (1988.29, 0.027), (1988.37, 0.027), (1988.49, 0.005), (1988.60, -0.045),
    (1988.71, -0.074), (1988.81, -0.092), (1988.90, -0.063), (1989.02, -0.006), (1989.13, 0.034), (1989.25, 0.030),
    (1989.40, 0.027), (1989.51, 0.019), (1989.63, 0.048), (1989.74, 0.088), (1989.82, 0.095), (1989.91, 0.117),
    (1989.97, 0.142), (1990.05, 0.196), (1990.16, 0.170), (1990.24, 0.142), (1990.31, 0.110), (1990.43, 0.077),
    (1990.54, 0.045), (1990.69, 0.073), (1990.81, 0.070), (1990.88, 0.048), (1991.04, 0.052), (1991.15, 0.027),
    (1991.23, -0.013), (1991.30, -0.002), (1991.42, -0.009), (1991.53, -0.009), (1991.65, 0.045), (1991.76, 0.048),
    (1991.91, 0.091), (1992.03, 0.066), (1992.18, 0.027), (1992.30, -0.006), (1992.41, 0.019), (1992.56, 0.052),
    (1992.71, 0.081), (1992.87, 0.059), (1992.98, 0.045), (1993.10, -0.006), (1993.25, -0.002), (1993.36, -0.006),
    (1993.48, 0.012), (1993.59, 0.070), (1993.71, 0.117), (1993.86, 0.156), (1993.97, 0.142), (1994.09, 0.120),
    (1994.20, 0.070), (1994.31, 0.023), (1994.43, -0.017), (1994.54, -0.031), (1994.66, -0.027), (1994.77, -0.053),
    (1994.89, -0.063), (1994.96, -0.042), (1995.08, -0.017), (1995.19, 0.012), (1995.31, 0.034), (1995.42, -0.027),
    (1995.53, -0.067), (1995.72, -0.092), (1995.84, -0.045), (1995.99, 0.045), (1996.12, 0.070), (1996.26, 0.048),
    (1996.37, 0.045), (1996.49, 0.048), (1996.64, 0.055), (1996.75, 0.019), (1996.87, -0.027), (1996.98, -0.056),
    (1997.10, -0.060), (1997.17, -0.035), (1997.29, 0.019), (1997.36, 0.052), (1997.48, 0.063), (1997.59, 0.055),
    (1997.67, 0.041), (1997.78, 0.030), (1997.90, -0.024), (1998.01, -0.074), (1998.11, -0.124), (1998.20, -0.117),
    (1998.32, -0.074), (1998.43, -0.035), (1998.54, -0.027), (1998.66, -0.060), (1998.77, -0.071), (1998.89, -0.081),
    (1999.00, -0.074), (1999.12, -0.063), (1999.23, -0.074), (1999.34, -0.067), (1999.50, -0.053), (1999.65, -0.045),
    (1999.76, -0.024), (1999.88, 0.009), (1999.99, -0.002), (2000.11, -0.017), (2000.22, -0.042), (2000.30, -0.088),
    (2000.37, -0.074), (2000.45, -0.038), (2000.56, -0.017), (2000.68, -0.009), (2000.79, -0.013), (2000.87, -0.045),
    (2000.96, -0.085), (2001.06, -0.081), (2001.17, -0.045), (2001.33, 0.001), (2001.40, 0.009), (2001.52, 0.005),
    (2001.63, 0.012), (2001.75, 0.001), (2001.82, 0.037), (2001.94, 0.037), (2002.09, 0.034), (2002.24, 0.048),
    (2002.35, -0.006), (2002.47, -0.020), (2002.58, -0.045), (2002.74, -0.056), (2002.85, -0.063), (2002.96, -0.074),
    (2003.08, -0.053), (2003.19, -0.017), (2003.31, 0.012), (2003.42, 0.005), (2003.50, -0.006), (2003.61, 0.019),
    (2003.73, 0.005), (2003.84, 0.016), (2003.96, 0.012), (2004.03, -0.017), (2004.15, 0.012), (2004.26, 0.019),
    (2004.37, 0.023), (2004.49, 0.016), (2004.60, 0.012), (2004.72, 0.019), (2004.79, 0.063), (2004.87, 0.091),
    (2004.96, 0.095), (2005.04, 0.117), (2005.11, 0.099), (2005.21, 0.048), (2005.29, 0.034), (2005.39, 0.048),
    (2005.46, 0.019), (2005.56, 0.016), (2005.67, 0.009), (2005.75, -0.024), (2005.86, -0.063), (2005.97, -0.067),
    (2006.13, -0.088), (2006.24, -0.042), (2006.32, -0.027), (2006.39, -0.056), (2006.55, 0.005), (2006.66, -0.024),
    (2006.78, -0.027), (2006.89, -0.067), (2007.00, -0.092), (2007.12, -0.092), (2007.23, -0.056), (2007.31, -0.027),
    (2007.42, -0.035), (2007.58, -0.035), (2007.69, -0.074), (2007.80, -0.049), (2007.92, -0.038), (2008.09, -0.040),
    (2008.22, -0.070), (2008.36, -0.035), (2008.50, -0.042), (2008.62, -0.027), (2008.74, -0.038), (2008.86, -0.027),
    (2008.95, -0.042),
]

YEAR_TICKS = [1985, 1990, 1995, 2000, 2005, 2010]

# ---------------------------------------------------------------- styling
RED_BAND = "#8e1b02"
GRAY_BAND = "#aaaaaa"
CMIP_LINE = "#d6d6d6"
CMIP_MARK = "#d9d9d9"
AMIP_LINE = "#ff0000"
LABEL_SIZE = 18

W, H = 1234, 823
fig = plt.figure(figsize=(W / 100, H / 100), dpi=100)


def box(left, top, right, bottom):
    return [left / W, 1 - bottom / H, (right - left) / W, (bottom - top) / H]


def pct_forward(x):
    return np.interp(x, PCT_TICKS, np.arange(len(PCT_TICKS)))


def pct_inverse(p):
    return np.interp(p, np.arange(len(PCT_TICKS)), PCT_TICKS)


def frame(ax, ticklen):
    for s in ax.spines.values():
        s.set_linewidth(1.1)
    ax.tick_params(direction="in", top=True, right=True, length=ticklen, width=0.9,
                   labelsize=10.5, pad=4)


def pct_panel(ax, cm, cm_hi, cm_lo, am, am_hi, am_lo, obs, ylim, yticks, dash_color):
    x = np.array(PCT, dtype=float)
    ax.set_xscale("function", functions=(pct_forward, pct_inverse))
    ax.fill_between(x, cm_lo, cm_hi, color=GRAY_BAND, lw=0, zorder=1)
    ax.fill_between(x, am_lo, am_hi, color=RED_BAND, lw=0, zorder=2)
    ax.axhline(0, color=dash_color, lw=1.1, ls=(0, (6, 4)), zorder=3)
    ax.plot(x, obs, color="black", lw=1.3, zorder=6)
    ax.plot(x, cm, color=CMIP_LINE, lw=1.3, zorder=4)
    ax.plot(x, am, color=AMIP_LINE, lw=1.2, zorder=5)
    ax.set_xlim(0, 100)
    ax.set_xticks(PCT_TICKS)
    ax.set_xticklabels([str(t) for t in PCT_TICKS])
    ax.minorticks_off()
    ax.set_ylim(*ylim)
    ax.set_yticks(yticks)
    ax.set_yticklabels([str(t) for t in yticks])
    frame(ax, 3.5)
    return x


# ---- (a)
ax_a = fig.add_axes(box(117.3, 14.7, 593.3, 344.3))
xa = pct_panel(ax_a, A_CMIP, A_CMIP_HI, A_CMIP_LO, A_AMIP, A_AMIP_HI, A_AMIP_LO, A_GPCP,
               (-25, 25), list(range(-25, 26, 5)), "#555555")
ax_a.plot(xa[A_AMIP_SIG], np.array(A_AMIP)[A_AMIP_SIG], "o", color=AMIP_LINE, ms=7.5, mew=0, zorder=7)
ax_a.plot(xa[A_CMIP_SIG], np.array(A_CMIP)[A_CMIP_SIG], "o", color=CMIP_MARK, ms=7.5, mew=0, zorder=8)
ax_a.plot(xa[A_GPCP_SIG], np.array(A_GPCP)[A_GPCP_SIG], "o", color="black", ms=7.5, mew=0, zorder=9)
ax_a.text(0.215, 0.893, "a", transform=ax_a.transAxes, fontsize=18, ha="center", va="center")

handles = [
    Line2D([], [], color="black", lw=1.3),
    Line2D([], [], color=CMIP_LINE, lw=1.3, marker="s", ms=8, mfc=GRAY_BAND, mec=GRAY_BAND),
    Line2D([], [], color=AMIP_LINE, lw=1.2, marker="s", ms=8, mfc=RED_BAND, mec=RED_BAND),
]
leg = ax_a.legend(handles, ["GPCP v2.2", "CMIP5", "AMIP5"], loc="lower right",
                  bbox_to_anchor=(0.985, 0.023), borderaxespad=0, fontsize=10,
                  frameon=True, fancybox=False, edgecolor="black", handlelength=3.2,
                  handletextpad=0.6, borderpad=0.3, labelspacing=0.2)
leg.get_frame().set_linewidth(1.0)
leg.set_zorder(20)

# ---- (b)
ax_b = fig.add_axes(box(735.0, 14.7, 1193.3, 344.3))
xb = pct_panel(ax_b, B_CMIP, B_CMIP_HI, B_CMIP_LO, B_AMIP, B_AMIP_HI, B_AMIP_LO, B_GPCP,
               (-8.5, 4), [-8, -6, -4, -2, 0, 2, 4], "black")
ax_b.set_yticklabels(["\u22128", "\u22126", "\u22124", "\u22122", "0", "2", "4"])
ax_b.plot(xb[B_GPCP_SIG], np.array(B_GPCP)[B_GPCP_SIG], "o", color="black", ms=7.5, mew=0, zorder=9)
ax_b.text(0.213, 0.918, "b", transform=ax_b.transAxes, fontsize=18, ha="center", va="center")

fig.text(60 / W, 1 - 180 / H, r"dP$_{\%}$/dT (%/K)", rotation=90, fontsize=LABEL_SIZE,
         ha="center", va="center")
fig.text(688 / W, 1 - 178 / H, r"dP$_{\%}$/dt (%/dec)", rotation=90, fontsize=LABEL_SIZE,
         ha="center", va="center")
fig.text(356 / W, 1 - 380 / H, "Precipitation Percentile (%)", fontsize=LABEL_SIZE,
         ha="center", va="center")
fig.text(964 / W, 1 - 380 / H, "Precipitation Percentile (%)", fontsize=LABEL_SIZE,
         ha="center", va="center")


# ---- (c), (d)
def series_panel(ax, band_c, line_c, band_a, line_a, obs, ylim, yticks, yticklabels, letter, dash):
    yc, hc, lc = zip(*band_c)
    ya, ha_, la = zip(*band_a)
    ax.fill_between(yc, lc, hc, color=GRAY_BAND, lw=0, zorder=1)
    ax.fill_between(ya, la, ha_, color=RED_BAND, lw=0, zorder=2)
    ax.axhline(0, color=dash, lw=1.0, ls=(0, (7, 5)), zorder=3)
    x, v = zip(*line_c)
    ax.plot(x, v, color=CMIP_LINE, lw=1.2, zorder=4)
    x, v = zip(*line_a)
    ax.plot(x, v, color=AMIP_LINE, lw=1.1, zorder=5)
    x, v = zip(*obs)
    ax.plot(x, v, color="black", lw=1.4, zorder=6)
    ax.set_xlim(1985, 2010)
    ax.set_xticks(YEAR_TICKS)
    ax.set_ylim(*ylim)
    ax.set_yticks(yticks)
    ax.set_yticklabels(yticklabels)
    frame(ax, 7.8)
    ax.text(0.086, 0.895, letter, transform=ax.transAxes, fontsize=15, ha="center", va="center")


ax_c = fig.add_axes(box(117.6, 409.7, 1211.0, 575.7))
series_panel(ax_c, WET_CMIP_BAND, WET_CMIP, WET_AMIP_BAND, WET_AMIP, WET_GPCP,
             (-0.41, 0.7), [-0.4, -0.2, 0, 0.2, 0.4, 0.6],
             ["\u22120.4", "\u22120.2", "0", "0.2", "0.4", "0.6"], "c", "#333333")
ax_c.set_xticklabels([])

ax_d = fig.add_axes(box(117.6, 606.7, 1211.0, 773.3))
series_panel(ax_d, DRY_CMIP_BAND, DRY_CMIP, DRY_AMIP_BAND, DRY_AMIP, DRY_GPCP,
             (-0.15, 0.21), [-0.1, 0, 0.1, 0.2],
             ["\u22120.1", "0", "0.1", "0.2"], "d", "#444444")
ax_d.set_xticklabels([str(t) for t in YEAR_TICKS])

fig.text(27 / W, 1 - 582 / H, "P anomaly (mm/day)", rotation=90, fontsize=19, ha="center", va="center")
fig.text(63 / W, 1 - 493 / H, "Wet", rotation=90, fontsize=19, ha="center", va="center")
fig.text(63 / W, 1 - 692 / H, "Dry", rotation=90, fontsize=19, ha="center", va="center")
fig.text(664 / W, 1 - 808 / H, "Year", fontsize=LABEL_SIZE, ha="center", va="center")

fig.savefig("out.png", dpi=100)
